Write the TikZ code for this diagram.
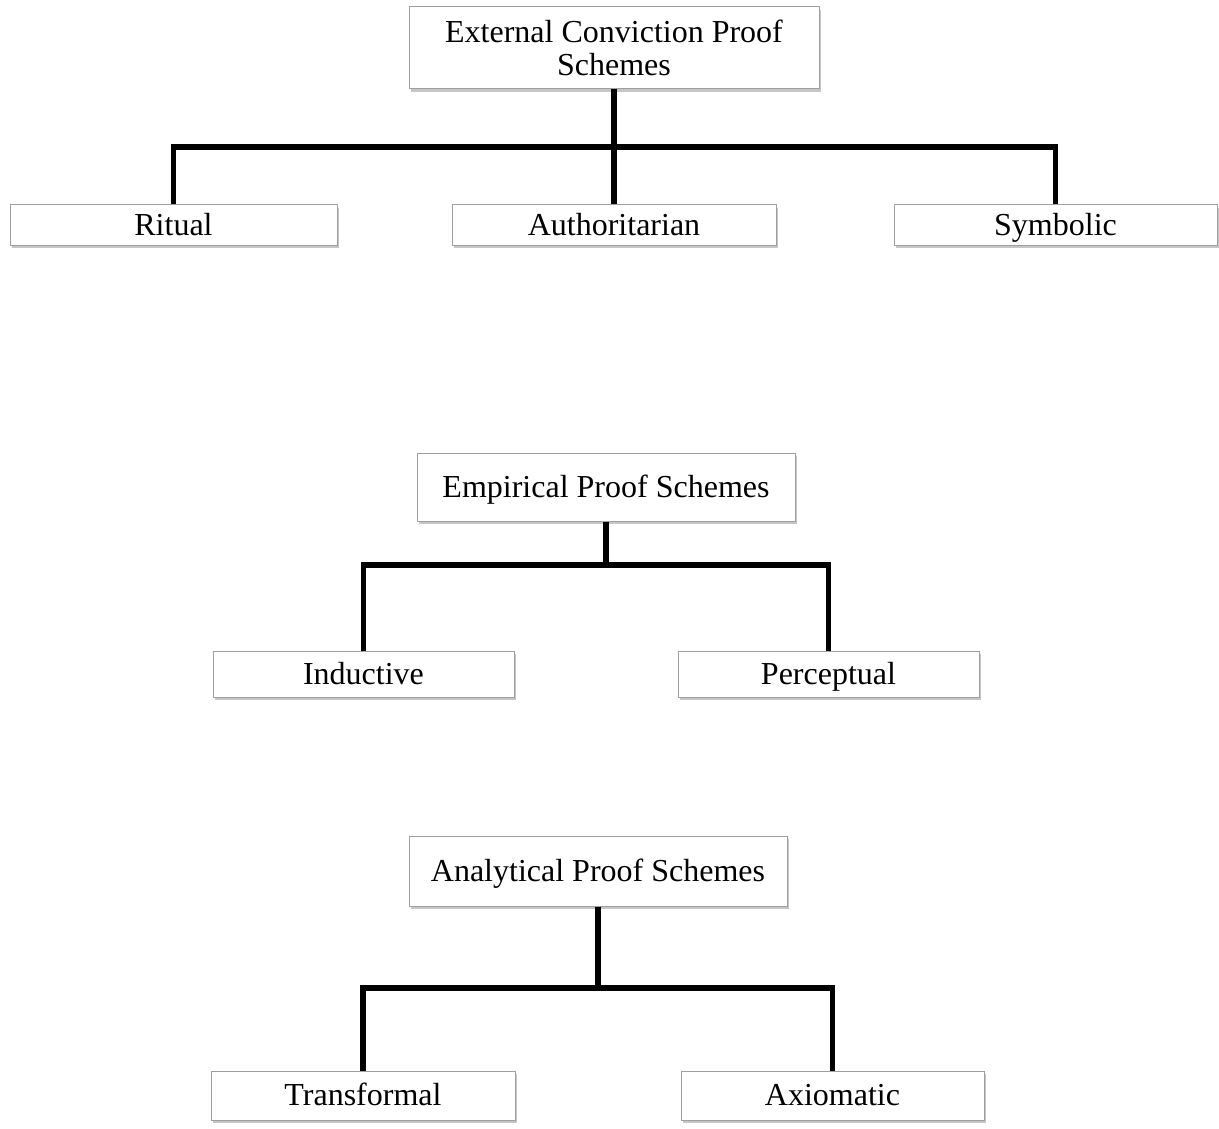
\documentclass[tikz,border=0pt]{standalone}
\usepackage{fontspec}
\setmainfont{Liberation Serif}
\usetikzlibrary{shadows}
\begin{document}
\begin{tikzpicture}[x=1pt,y=-1pt,
  box/.style={draw=gray!75, line width=1pt, fill=white, inner sep=0pt, align=center,
    font=\fontsize{32}{33.5}\selectfont,
    drop shadow={opacity=0.45, shadow xshift=1.5pt, shadow yshift=-3pt, fill=gray}},
  one/.style={box, text height=22pt, text depth=2pt},
  link/.style={line width=5.5pt, black}]
\useasboundingbox (0,0) rectangle (1219,1129);
% top tree
\node[box, minimum width=410pt, minimum height=82pt] (ext) at (614,48) {External Conviction Proof\\Schemes};
\node[one, minimum width=327pt, minimum height=40pt] (rit) at (173.5,225) {Ritual};
\node[one, minimum width=324pt, minimum height=40pt] (aut) at (614,225) {Authoritarian};
\node[one, minimum width=323pt, minimum height=40pt] (sym) at (1055.5,225) {Symbolic};
\coordinate (j1) at (614,147);
\draw[link] (ext.south) -- (j1);
\draw[link] (rit.north) |- (j1) -| (sym.north);
\draw[link] (j1) -- (aut.north);
% middle tree
\node[one, minimum width=378pt, minimum height=68pt] (emp) at (606,487) {Empirical Proof Schemes};
\node[one, minimum width=301pt, minimum height=46pt] (ind) at (363.5,674) {Inductive};
\node[one, minimum width=301pt, minimum height=46pt] (per) at (828.5,674) {Perceptual};
\coordinate (j2) at (606,565);
\draw[link] (emp.south) -- (j2);
\draw[link] (ind.north) |- (j2) -| (per.north);
% bottom tree
\node[one, minimum width=378pt, minimum height=70pt] (ana) at (598,871) {Analytical Proof Schemes};
\node[one, minimum width=304pt, minimum height=49pt] (tra) at (363,1095.5) {Transformal};
\node[one, minimum width=303pt, minimum height=49pt] (axi) at (832.5,1095.5) {Axiomatic};
\coordinate (j3) at (598,988);
\draw[link] (ana.south) -- (j3);
\draw[link] (tra.north) |- (j3) -| (axi.north);
\end{tikzpicture}
\end{document}
